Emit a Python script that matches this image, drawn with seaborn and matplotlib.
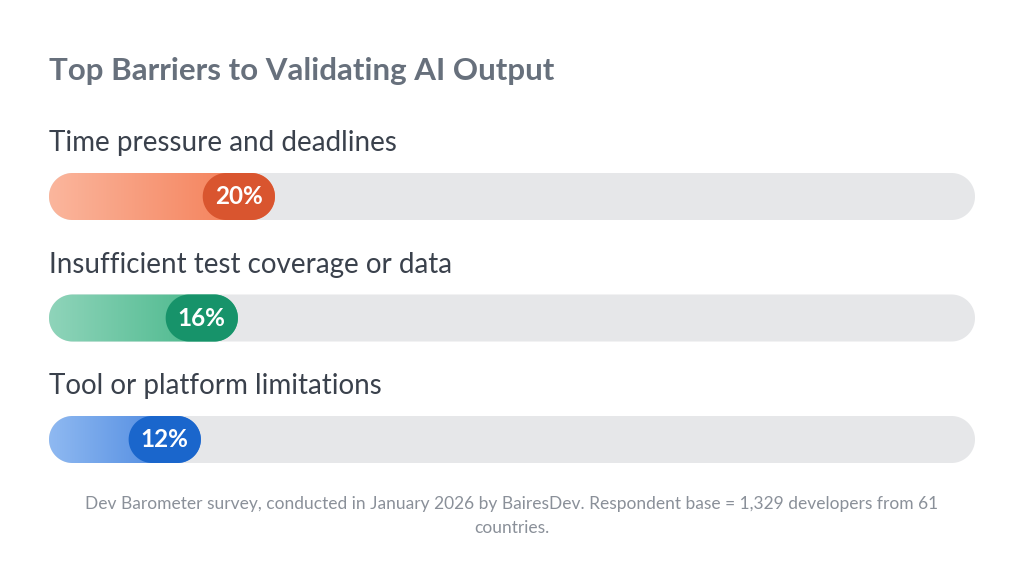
import numpy as np
import pandas as pd
import seaborn as sns
import matplotlib.pyplot as plt
from matplotlib.patches import Polygon
from matplotlib.colors import LinearSegmentedColormap

TITLE = "Top Barriers to Validating AI Output"
BARRIERS = [
    "Time pressure and deadlines",
    "Insufficient test coverage or data",
    "Tool or platform limitations",
]
SHARES = [20, 16, 12]
NOTE = ("Dev Barometer survey, conducted in January 2026 by BairesDev. "
        "Respondent base = 1,329 developers from 61\ncountries.")

LIGHT = ["#FBB69D", "#8FD4BA", "#8FB9F1"]
MID = ["#F3774E", "#3DB383", "#3E7EDC"]
DARK = ["#D9552F", "#17936A", "#1A66CC"]
TRACK = "#E6E7E9"
LABEL_COLOR = "#3A414C"
TITLE_COLOR = "#67707C"
NOTE_COLOR = "#8A9099"

BAR_H = 47 / 121.5
PILL_W = 7.8
PILL_SHIFT = 0.5


def capsule(ax, x, y, w, h, color, z):
    # pill shape in data units, with true half-circle ends on screen
    p0 = ax.transData.transform((0, 0))
    px_x = ax.transData.transform((1, 0))[0] - p0[0]
    px_y = abs(ax.transData.transform((0, 1))[1] - p0[1])
    rx = h * px_y / (2 * px_x)
    ry = h / 2
    cy = y + h / 2
    t = np.linspace(np.pi / 2, 3 * np.pi / 2, 60)
    left = np.column_stack([x + rx + rx * np.cos(t), cy + ry * np.sin(t)])
    t2 = np.linspace(-np.pi / 2, np.pi / 2, 60)
    right = np.column_stack([x + w - rx + rx * np.cos(t2), cy + ry * np.sin(t2)])
    patch = Polygon(np.vstack([left, right]), closed=True, facecolor=color,
                    edgecolor="none", zorder=z)
    ax.add_patch(patch)
    return patch


def main():
    sns.set_theme(style="white")
    plt.rcParams["font.family"] = ["Lato", "DejaVu Sans"]

    fig = plt.figure(figsize=(10.24, 5.84), dpi=100)
    ax = fig.add_axes([49 / 1024, 1 - 470 / 584, 926 / 1024, 350 / 584])

    df = pd.DataFrame({"barrier": BARRIERS, "share": SHARES})
    df["full"] = 100
    sns.barplot(data=df, x="full", y="barrier", color=TRACK, width=BAR_H, ax=ax)
    sns.barplot(data=df, x="share", y="barrier", color=MID[0], width=BAR_H, ax=ax)
    ax.set_xlim(0, 100)
    ax.set_ylim(2 + 30.5 / 121.5, -76.5 / 121.5)
    ax.set_axis_off()

    bars = list(ax.patches)
    boxes = [(p.get_x(), p.get_y(), p.get_width(), p.get_height()) for p in bars]
    for p in bars:
        p.remove()

    grad = np.linspace(0, 1, 256).reshape(1, -1)
    for i, (label, share) in enumerate(zip(BARRIERS, SHARES)):
        tx, ty, tw, th = boxes[i]
        fx, fy, fw, fh = boxes[i + 3]
        capsule(ax, tx, ty, tw, th, TRACK, 1)

        cx = fw + PILL_SHIFT
        end = cx + PILL_W / 2
        clip = capsule(ax, fx, fy, end, fh, "none", 2)
        cmap = LinearSegmentedColormap.from_list(f"g{i}", [LIGHT[i], MID[i]])
        im = ax.imshow(grad, extent=(fx, fx + end, fy + fh, fy), cmap=cmap,
                       aspect="auto", zorder=2, interpolation="bilinear")
        im.set_clip_path(clip)
        ax.set_xlim(0, 100)
        ax.set_ylim(2 + 30.5 / 121.5, -76.5 / 121.5)

        capsule(ax, cx - PILL_W / 2, fy, PILL_W, fh, DARK[i], 3)
        ax.text(cx, fy + fh / 2, f"{share}%", ha="center", va="center",
                color="white", fontsize=17.5, fontweight="bold", zorder=4)

        ax.text(0, fy + fh / 2 - 53.5 / 121.5, label, ha="left", va="center",
                color=LABEL_COLOR, fontsize=20)

    fig.text(49 / 1024, 1 - 71 / 584, TITLE, ha="left", va="center",
             color=TITLE_COLOR, fontsize=22.5, fontweight="bold")
    fig.text(0.5, 1 - 516 / 584, NOTE, ha="center", va="center",
             color=NOTE_COLOR, fontsize=12.5, linespacing=1.55)

    fig.savefig("out.png", dpi=100, facecolor="white")
    plt.close(fig)


if __name__ == "__main__":
    main()
